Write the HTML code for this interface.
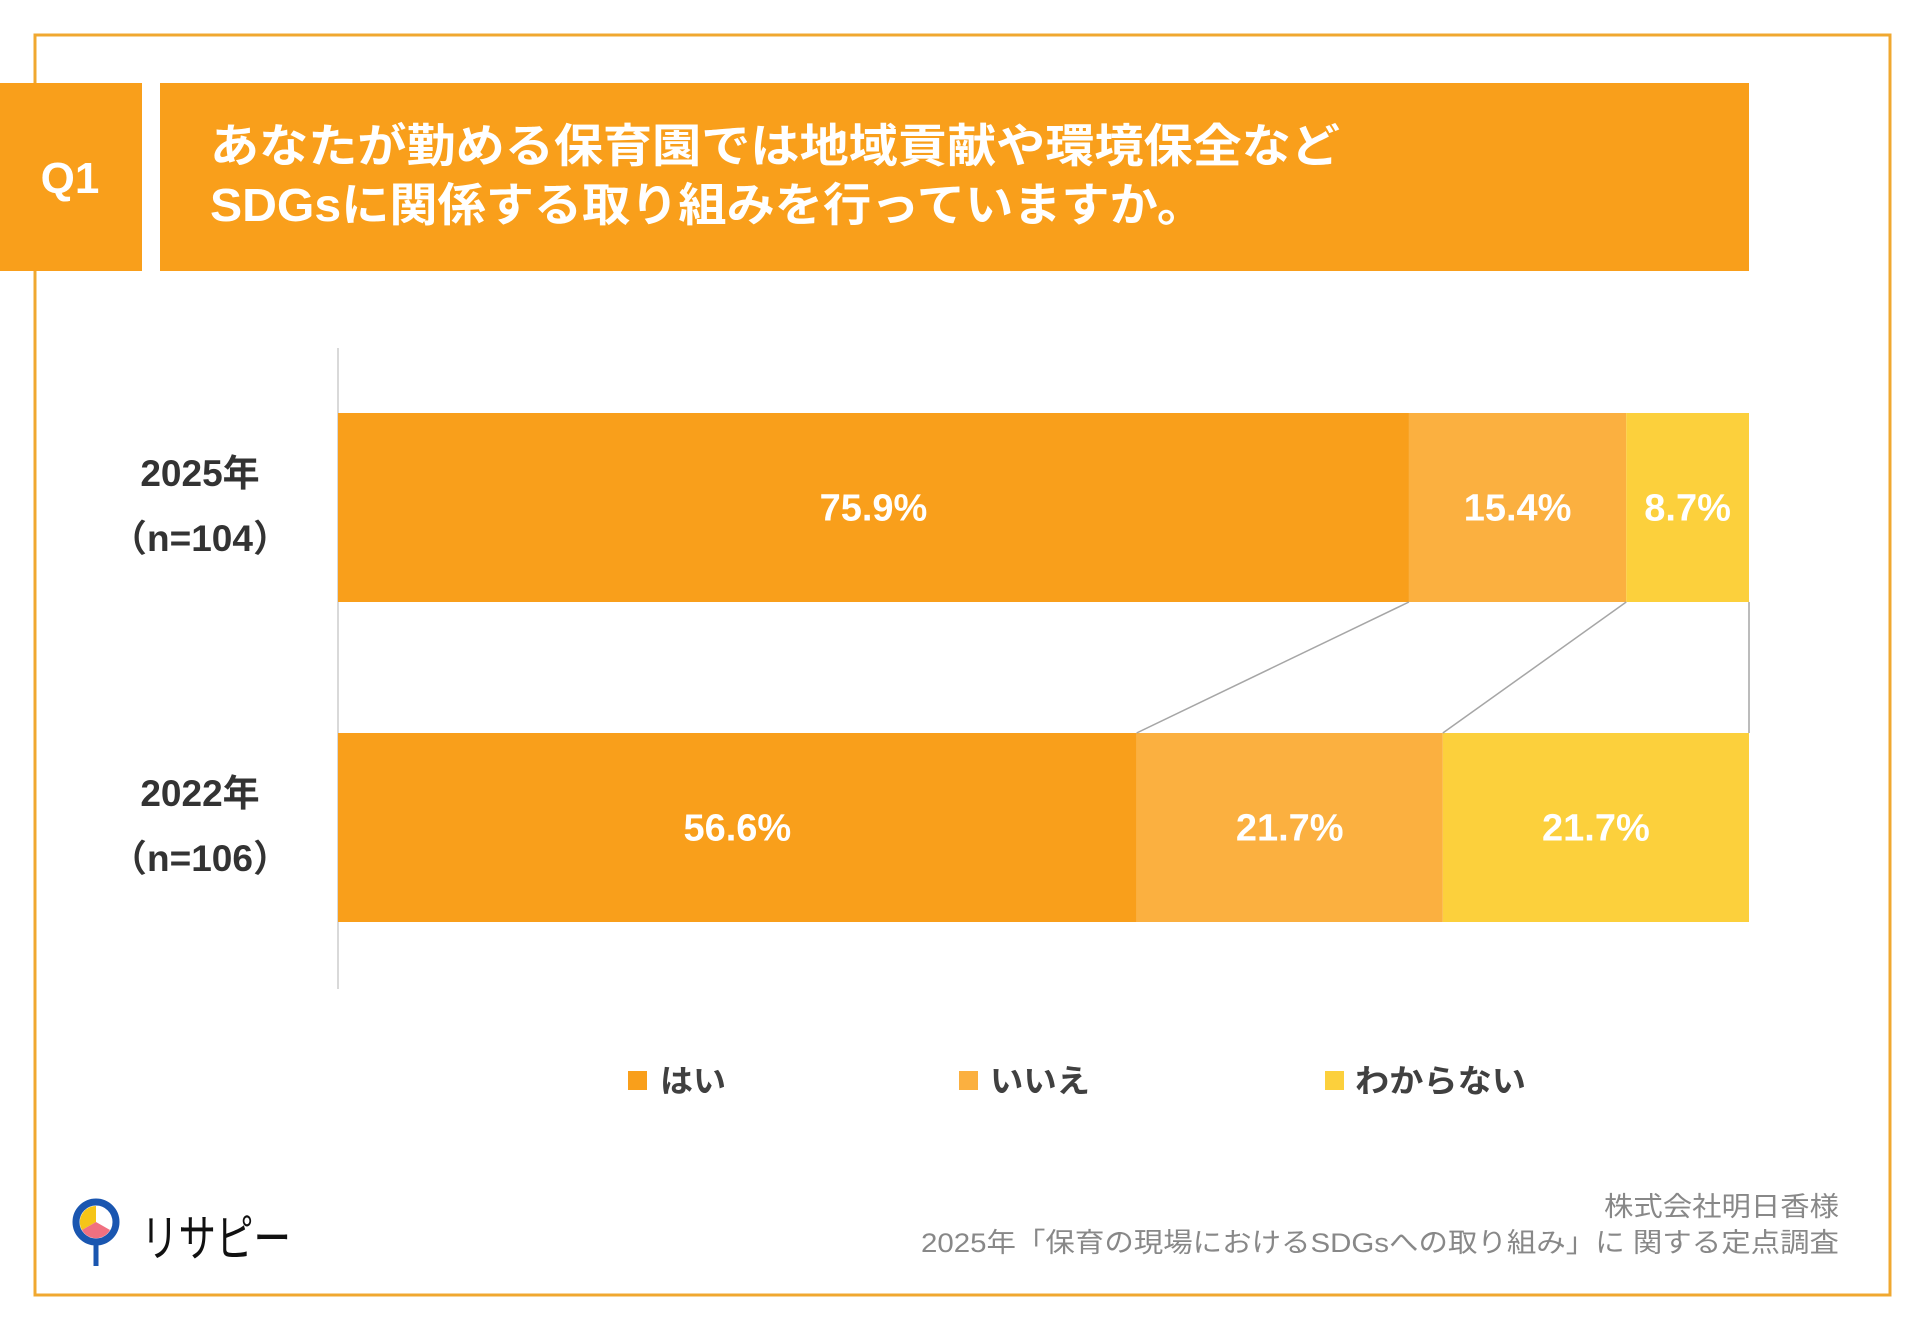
<!DOCTYPE html>
<html><head><meta charset="utf-8"><style>
body{margin:0;width:1920px;height:1329px;background:#fff;overflow:hidden;font-family:"Liberation Sans","Noto Sans CJK JP",sans-serif}
</style></head><body>
<svg width="1920" height="1329" xmlns="http://www.w3.org/2000/svg">
<rect x="35" y="35" width="1855" height="1260" fill="none" stroke="#F0A830" stroke-width="3"/>
<rect x="0" y="83" width="142" height="188" fill="#F99F1B"/>
<text x="70" y="193" text-anchor="middle" fill="#fff" font-size="44" font-weight="bold">Q1</text>
<rect x="160" y="83" width="1589" height="188" fill="#F99F1B"/>
<text fill="#fff" font-size="46" font-weight="bold"><tspan x="210" y="162" textLength="1130" lengthAdjust="spacingAndGlyphs">あなたが勤める保育園では地域貢献や環境保全など</tspan><tspan x="210" y="221" textLength="995" lengthAdjust="spacingAndGlyphs">SDGsに関係する取り組みを行っていますか。</tspan></text>
<line x1="338" y1="348" x2="338" y2="989" stroke="#d9d9d9" stroke-width="2"/>
<g id="bars"></g>
<g>
<rect x="628" y="1071" width="19" height="19" fill="#F99F1B"/>
<text x="660" y="1092" font-size="32" font-weight="bold" fill="#404040" textLength="66" lengthAdjust="spacingAndGlyphs">はい</text>
<rect x="959" y="1071" width="19" height="19" fill="#FBB040"/>
<text x="990" y="1092" font-size="32" font-weight="bold" fill="#404040" textLength="100" lengthAdjust="spacingAndGlyphs">いいえ</text>
<rect x="1325" y="1071" width="19" height="19" fill="#FCD03C"/>
<text x="1355" y="1092" font-size="32" font-weight="bold" fill="#404040" textLength="171" lengthAdjust="spacingAndGlyphs">わからない</text>
</g>
<g>
<circle cx="96" cy="1222" r="20" fill="#fff" stroke="#1a56b0" stroke-width="7"/>
<path d="M96 1222 L96 1206 A16 16 0 0 0 82 1230 Z" fill="#F5C518"/>
<path d="M96 1222 L82 1230 A16 16 0 0 0 110 1230 Z" fill="#F07080"/>
<line x1="96" y1="1245" x2="96" y2="1266" stroke="#1a56b0" stroke-width="5"/>
<text x="141" y="1256" font-size="50" fill="#111" textLength="150" lengthAdjust="spacingAndGlyphs">リサピー</text>
</g>
<text text-anchor="end" font-size="27" fill="#888"><tspan x="1839" y="1216" textLength="235" lengthAdjust="spacingAndGlyphs">株式会社明日香様</tspan><tspan x="1839" y="1252" textLength="918" lengthAdjust="spacingAndGlyphs">2025年「保育の現場におけるSDGsへの取り組み」に 関する定点調査</tspan></text>
</svg>
<script>
const categories=["2025年","2022年"];
const sampleLabels=["（n=104）","（n=106）"];
const seriesNames=["はい","いいえ","わからない"];
const yesValues=[75.9,56.6];
const noValues=[15.4,21.7];
const unknownValues=[8.7,21.7];
const colors=["#F99F1B","#FBB040","#FCD03C"];
const X0=338,X1=1749,barTops=[413,733],barH=189;
const xs=v=>X0+(X1-X0)*v/100;
const g=document.getElementById('bars');
const NS="http://www.w3.org/2000/svg";
const series=[yesValues,noValues,unknownValues];
const bounds=[];
categories.forEach((c,i)=>{
  let acc=0;const b=[];
  series.forEach((s,k)=>{
    const x=xs(acc),w=xs(acc+s[i])-x;
    const r=document.createElementNS(NS,'rect');
    r.setAttribute('x',x);r.setAttribute('y',barTops[i]);r.setAttribute('width',w);r.setAttribute('height',barH);r.setAttribute('fill',colors[k]);
    
    
    g.appendChild(r);
    const t=document.createElementNS(NS,'text');
    t.setAttribute('x',x+w/2);t.setAttribute('y',barTops[i]+barH/2+13);t.setAttribute('text-anchor','middle');
    t.setAttribute('fill','#fff');t.setAttribute('font-size','38');t.setAttribute('font-weight','bold');
    t.textContent=s[i].toFixed(1)+'%';
    
    
    g.appendChild(t);
    acc+=s[i];b.push(xs(acc));
  });
  bounds.push(b);
  const l=document.createElementNS(NS,'text');
  l.setAttribute('x',200);l.setAttribute('y',barTops[i]+73);l.setAttribute('text-anchor','middle');
  l.setAttribute('font-size','37');l.setAttribute('font-weight','bold');l.setAttribute('fill','#333');
  l.textContent=c;
  
  
  g.appendChild(l);
  const n=document.createElementNS(NS,'text');
  n.setAttribute('x',200);n.setAttribute('y',barTops[i]+138);n.setAttribute('text-anchor','middle');
  n.setAttribute('font-size','37');n.setAttribute('font-weight','bold');n.setAttribute('fill','#333');
  n.textContent=sampleLabels[i];
  
  
  g.appendChild(n);
});
for(let k=0;k<3;k++){
  const ln=document.createElementNS(NS,'line');
  ln.setAttribute('x1',bounds[0][k]);ln.setAttribute('y1',barTops[0]+barH);
  ln.setAttribute('x2',bounds[1][k]);ln.setAttribute('y2',barTops[1]);
  ln.setAttribute('stroke','#a6a6a6');ln.setAttribute('stroke-width','1.5');
  
  
  g.appendChild(ln);
}
</script>
</body></html>
